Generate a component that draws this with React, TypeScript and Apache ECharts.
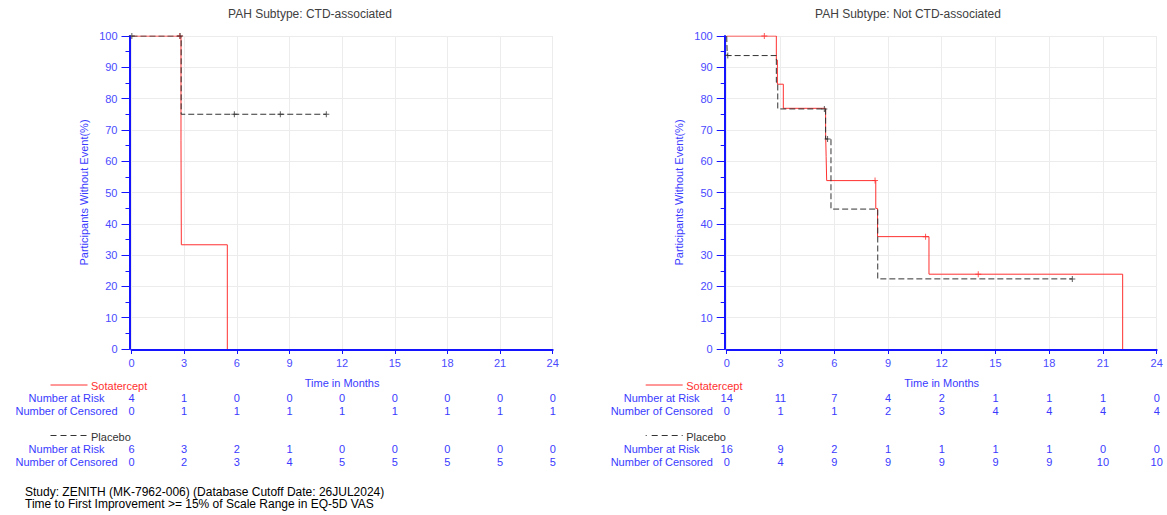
import React, { useEffect, useRef } from "react";
import * as echarts from "echarts";

// ---------- Data ----------
const panelTitles = ["PAH Subtype: CTD-associated", "PAH Subtype: Not CTD-associated"];

// Left panel (CTD-associated)
const leftSotaTimes = [0, 2.82, 2.84, 5.46];
const leftSotaSurv = [100, 66.7, 33.3, 0];
const leftSotaCensorTimes = [2.75];
const leftSotaCensorSurv = [100];
const leftPlacTimes = [0, 2.83, 11.1];
const leftPlacSurv = [100, 75, 75];
const leftPlacCensorTimes = [0.02, 2.77, 5.86, 8.48, 11.1];
const leftPlacCensorSurv = [100, 100, 75, 75, 75];

// Right panel (Not CTD-associated)
const rightSotaTimes = [0, 2.77, 2.83, 3.16, 5.52, 5.55, 5.58, 8.32, 8.42, 11.29, 22.1];
const rightSotaSurv = [100, 92.3, 84.6, 76.9, 69.2, 61.5, 53.8, 44.9, 35.9, 23.9, 0];
const rightSotaCensorTimes = [2.1, 8.28, 11.1, 14.04];
const rightSotaCensorSurv = [100, 53.8, 35.9, 23.9];
const rightPlacTimes = [0, 0.03, 2.77, 2.85, 5.52, 5.82, 8.43, 19.29];
const rightPlacSurv = [100, 93.75, 85.2, 76.7, 67.1, 44.7, 22.4, 22.4];
const rightPlacCensorTimes = [0.06, 5.45, 5.63, 19.29];
const rightPlacCensorSurv = [93.75, 76.7, 67.1, 22.4];

// Risk tables (at months 0,3,...,24)
const leftSotaRisk = [4, 1, 0, 0, 0, 0, 0, 0, 0];
const leftSotaCens = [0, 1, 1, 1, 1, 1, 1, 1, 1];
const leftPlacRisk = [6, 3, 2, 1, 0, 0, 0, 0, 0];
const leftPlacCens = [0, 2, 3, 4, 5, 5, 5, 5, 5];
const rightSotaRisk = [14, 11, 7, 4, 2, 1, 1, 1, 0];
const rightSotaCens = [0, 1, 1, 2, 3, 4, 4, 4, 4];
const rightPlacRisk = [16, 9, 2, 1, 1, 1, 1, 0, 0];
const rightPlacCens = [0, 4, 9, 9, 9, 9, 9, 10, 10];

const footerLines = [
  "Study: ZENITH (MK-7962-006) (Database Cutoff Date: 26JUL2024)",
  "Time to First Improvement >= 15% of Scale Range in EQ-5D VAS",
];

// ---------- Styling ----------
const FONT = "'Liberation Sans', Arial, sans-serif";
const AXIS_BLUE = "#1414ff";
const LABEL_BLUE = "#4a4aff";
const TEXT_BLUE = "#3a3aff";
const RED = "#ff3030";
const DARK = "#333333";
const GRID_GRAY = "#ececec";

const PLUS = "path://M0,2.5H6V3.5H0ZM2.5,0H3.5V6H2.5Z";

const zip = (a: number[], b: number[]) => a.map((v, i) => [v, b[i]]);

const grids = [
  { left: 131.5, width: 421.2, top: 36, height: 313 },
  { left: 726.7, width: 430, top: 36, height: 313 },
];

const rowOffsets = [48.5, 61.5, 99.5, 112.5];

function mainX(gridIndex: number) {
  return {
    gridIndex,
    type: "value",
    min: 0,
    max: 24,
    interval: 3,
    position: "bottom",
    offset: 1,
    axisLine: { show: true, onZero: false, lineStyle: { color: AXIS_BLUE, width: 2 } },
    axisTick: { show: true, length: 4, lineStyle: { color: AXIS_BLUE } },
    axisLabel: { color: LABEL_BLUE, fontSize: 11, margin: 7, fontFamily: FONT },
    splitLine: { show: true, lineStyle: { color: GRID_GRAY, width: 1 } },
    name: "Time in Months",
    nameLocation: "middle",
    nameGap: 27,
    nameTextStyle: { color: TEXT_BLUE, fontSize: 11, fontFamily: FONT },
  };
}

function rowX(gridIndex: number, offset: number, values: number[]) {
  return {
    gridIndex,
    type: "value",
    min: 0,
    max: 24,
    interval: 3,
    position: "bottom",
    offset,
    axisLine: { show: false, onZero: false },
    axisTick: { show: false },
    splitLine: { show: false },
    axisLabel: {
      margin: 0,
      verticalAlign: "middle",
      color: TEXT_BLUE,
      fontSize: 11,
      fontFamily: FONT,
      formatter: (v: number) => String(values[Math.round(v / 3)]),
    },
  };
}

function yAx(gridIndex: number) {
  return {
    gridIndex,
    type: "value",
    min: 0,
    max: 100,
    interval: 10,
    position: "left",
    offset: 2,
    axisLine: { show: true, onZero: false, lineStyle: { color: AXIS_BLUE, width: 2 } },
    axisTick: { show: true, length: 8, lineStyle: { color: AXIS_BLUE } },
    minorTick: { show: true, splitNumber: 2, length: 4, lineStyle: { color: AXIS_BLUE } },
    axisLabel: { color: LABEL_BLUE, fontSize: 11, margin: 12, fontFamily: FONT },
    splitLine: { show: true, lineStyle: { color: GRID_GRAY, width: 1 } },
    name: "Participants Without Event(%)",
    nameLocation: "middle",
    nameGap: 40,
    nameTextStyle: { color: TEXT_BLUE, fontSize: 11, fontFamily: FONT },
  };
}

function lineSeries(xi: number, yi: number, data: number[][], color: string, dashed: boolean) {
  return {
    type: "line",
    xAxisIndex: xi,
    yAxisIndex: yi,
    data,
    step: "end",
    showSymbol: false,
    symbol: "none",
    lineStyle: { color, width: 1, type: dashed ? [6, 3] : "solid" },
    silent: true,
  };
}

function censorSeries(xi: number, yi: number, data: number[][], color: string) {
  return {
    type: "scatter",
    xAxisIndex: xi,
    yAxisIndex: yi,
    data,
    symbol: PLUS,
    symbolSize: 6,
    itemStyle: { color },
    silent: true,
    z: 5,
  };
}

function panelGraphics(i: number, titleCenter: number, placeboDash: number[]) {
  const x0 = grids[i].left;
  const labelCenter = x0 - 65;
  const bottom = grids[i].top + grids[i].height;
  const rowY = rowOffsets.map((o) => bottom + o);
  const t = (text: string, x: number, y: number, fill: string, align = "center", size = 11) => ({
    type: "text",
    x,
    y,
    style: { text, fill, fontSize: size, fontFamily: FONT, textAlign: align, textVerticalAlign: "middle" },
    silent: true,
  });
  return [
    t(panelTitles[i], titleCenter, 14, "#404040", "center", 12),
    {
      type: "line",
      shape: { x1: x0 - 81, y1: 385, x2: x0 - 44, y2: 385 },
      style: { stroke: RED, lineWidth: 1 },
      silent: true,
    },
    t("Sotatercept", x0 - 40.5, 386, RED, "left"),
    t("Number at Risk", labelCenter, rowY[0], TEXT_BLUE),
    t("Number of Censored", labelCenter, rowY[1], TEXT_BLUE),
    {
      type: "line",
      shape: { x1: x0 - 81, y1: 435.5, x2: x0 - 44, y2: 435.5 },
      style: { stroke: DARK, lineWidth: 1, lineDash: placeboDash },
      silent: true,
    },
    t("Placebo", x0 - 40.5, 436.5, DARK, "left"),
    t("Number at Risk", labelCenter, rowY[2], TEXT_BLUE),
    t("Number of Censored", labelCenter, rowY[3], TEXT_BLUE),
  ];
}

function buildOption() {
  const xAxis = [
    mainX(0),
    rowX(0, rowOffsets[0], leftSotaRisk),
    rowX(0, rowOffsets[1], leftSotaCens),
    rowX(0, rowOffsets[2], leftPlacRisk),
    rowX(0, rowOffsets[3], leftPlacCens),
    mainX(1),
    rowX(1, rowOffsets[0], rightSotaRisk),
    rowX(1, rowOffsets[1], rightSotaCens),
    rowX(1, rowOffsets[2], rightPlacRisk),
    rowX(1, rowOffsets[3], rightPlacCens),
  ];
  const yAxis = [yAx(0), yAx(1)];
  const series = [
    lineSeries(0, 0, zip(leftSotaTimes, leftSotaSurv), RED, false),
    lineSeries(0, 0, zip(leftPlacTimes, leftPlacSurv), DARK, true),
    censorSeries(0, 0, zip(leftSotaCensorTimes, leftSotaCensorSurv), RED),
    censorSeries(0, 0, zip(leftPlacCensorTimes, leftPlacCensorSurv), DARK),
    lineSeries(5, 1, zip(rightSotaTimes, rightSotaSurv), RED, false),
    lineSeries(5, 1, zip(rightPlacTimes, rightPlacSurv), DARK, true),
    censorSeries(5, 1, zip(rightSotaCensorTimes, rightSotaCensorSurv), RED),
    censorSeries(5, 1, zip(rightPlacCensorTimes, rightPlacCensorSurv), DARK),
  ];
  const footer = footerLines.map((text, i) => ({
    type: "text",
    x: 25,
    y: 492 + i * 11.8,
    style: { text, fill: "#000", fontSize: 12, fontFamily: FONT, textAlign: "left", textVerticalAlign: "middle" },
    silent: true,
  }));
  return {
    animation: false,
    backgroundColor: "#ffffff",
    textStyle: { fontFamily: FONT },
    grid: grids.map((g) => ({ ...g, containLabel: false })),
    xAxis,
    yAxis,
    series,
    graphic: [
      ...panelGraphics(0, 310, [6, 4]),
      ...panelGraphics(1, 908, [1, 5, 6, 4, 6, 4, 6, 4]),
      ...footer,
    ],
  };
}

export default function App() {
  const ref = useRef<HTMLDivElement>(null);
  useEffect(() => {
    const chart = echarts.init(ref.current!, null, { renderer: "svg" });
    chart.setOption(buildOption() as any);
    return () => chart.dispose();
  }, []);
  return (
    <div
      ref={ref}
      style={{ position: "absolute", left: 0, top: 0, width: 1167, height: 515 }}
    />
  );
}
